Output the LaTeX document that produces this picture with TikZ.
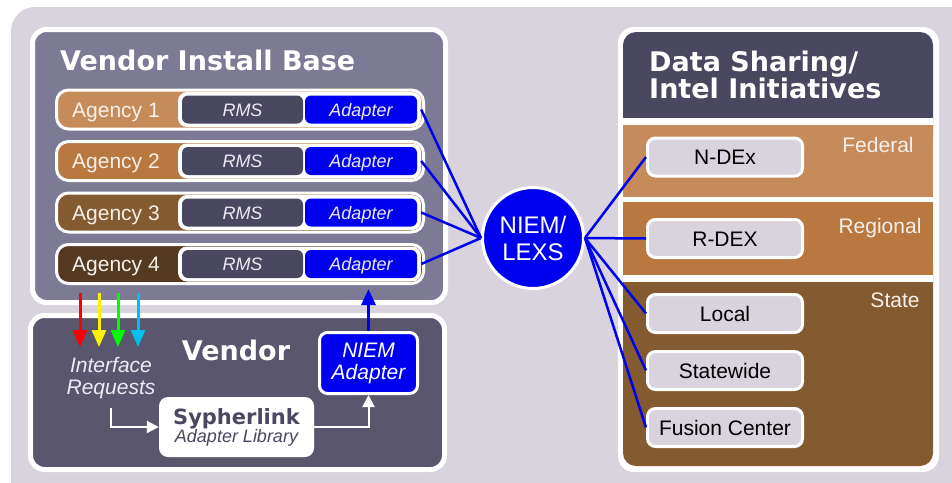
\documentclass[tikz,border=0pt]{standalone}
\usepackage{fontspec}
\setmainfont{Liberation Sans}
\newfontfamily\verd{DejaVu Sans}
\usetikzlibrary{arrows.meta}

\definecolor{bgray}{HTML}{D8D3DD}
\definecolor{ibase}{HTML}{7D7A96}
\definecolor{vend}{HTML}{5A566E}
\definecolor{slate}{HTML}{4A4760}
\definecolor{niemblue}{HTML}{0000F0}
\definecolor{agA}{HTML}{C68B5A}
\definecolor{agB}{HTML}{B87840}
\definecolor{agC}{HTML}{845A30}
\definecolor{agD}{HTML}{553A20}
\definecolor{pale}{HTML}{ECEAF2}
\definecolor{cream}{HTML}{F6F0EA}
\definecolor{reqcyan}{HTML}{00C0F0}

\tikzset{
  agrow/.style={draw=white, line width=3pt, fill=#1, rounded corners=12pt,
    minimum width=367pt, minimum height=39pt, inner sep=0pt},
  agtext/.style={anchor=base west, text=cream, inner sep=0pt, font=\fontsize{21}{21}\selectfont},
  rmswrap/.style={fill=white, rounded corners=9pt, minimum width=243pt, minimum height=35pt, inner sep=0pt},
  rmsbox/.style={fill=slate, rounded corners=6pt, minimum width=121pt, minimum height=28pt,
    inner sep=0pt, text height=13pt, text depth=0pt, text=pale, font=\fontsize{18}{18}\selectfont\itshape},
  adbox/.style={rmsbox, fill=niemblue, minimum width=112pt},
  share/.style={draw=white, line width=3pt, fill=bgray, rounded corners=8pt, inner sep=0pt,
    minimum width=155pt, minimum height=38pt, text height=15pt, text depth=0pt,
    font=\fontsize{21}{21}\selectfont},
  band/.style={anchor=base, text=cream, inner sep=0pt, font=\fontsize{21}{21}\selectfont},
  heading/.style={anchor=base west, text=white, inner sep=0pt, font=\verd\bfseries\fontsize{27}{27}\selectfont},
  link/.style={niemblue, line width=2.5pt},
  req/.style={line width=3pt, -{Triangle[width=14pt,length=17pt]}, shorten >=10pt},
  flow/.style={white, line width=2pt, -{Triangle[width=12pt,length=12pt]}},
}

\begin{document}
\begin{tikzpicture}[x=1pt, y=-1pt]
  \useasboundingbox (0,0) rectangle (952,482);
  \clip (0,0) rectangle (952,482);
  \fill[bgray, rounded corners=24pt] (11,7) rectangle (990,520);

  % vendor install base
  \draw[white, line width=5pt, fill=ibase, rounded corners=14pt] (32.5,29.5) rectangle (445.5,302.5);
  \node[heading] (vib) at (60,70) {Vendor Install Base};

  \node[agrow=agA] (ag1) at (240,109.5) {};
  \node[agtext] (ag1t) at (72,117.3) {Agency 1};
  \node[rmswrap] (rb1) at (299.5,109.5) {};
  \node[rmsbox] (rms1) at (242.5,109.5) {RMS};
  \node[adbox] (ad1) at (361,109.5) {Adapter};

  \node[agrow=agB] (ag2) at (240,161) {};
  \node[agtext] (ag2t) at (72,168.8) {Agency 2};
  \node[rmswrap] (rb2) at (299.5,161) {};
  \node[rmsbox] (rms2) at (242.5,161) {RMS};
  \node[adbox] (ad2) at (361,161) {Adapter};

  \node[agrow=agC] (ag3) at (240,212.5) {};
  \node[agtext] (ag3t) at (72,220.3) {Agency 3};
  \node[rmswrap] (rb3) at (299.5,212.5) {};
  \node[rmsbox] (rms3) at (242.5,212.5) {RMS};
  \node[adbox] (ad3) at (361,212.5) {Adapter};

  \node[agrow=agD] (ag4) at (240,264) {};
  \node[agtext] (ag4t) at (72,271.8) {Agency 4};
  \node[rmswrap] (rb4) at (299.5,264) {};
  \node[rmsbox] (rms4) at (242.5,264) {RMS};
  \node[adbox] (ad4) at (361,264) {Adapter};

  % vendor
  \draw[white, line width=5pt, fill=vend, rounded corners=14pt] (30.5,315.5) rectangle (444.5,469.5);
  \node[heading, anchor=base] (vnd) at (236,360) {Vendor};
  \node[anchor=north, align=center, inner sep=0pt, text=pale,
    font=\fontsize{21}{22}\selectfont\itshape] (ir) at (111,357) {Interface\\Requests};
  \node[fill=white, rounded corners=9pt, minimum width=155pt, minimum height=60pt,
    inner sep=0pt, align=center, text=slate, font=\fontsize{18}{18}\selectfont] (syph) at (236.5,427)
    {{\verd\bfseries\fontsize{21}{18}\selectfont Sypherlink}\\{\itshape Adapter Library}};
  \node[draw=white, line width=3pt, fill=niemblue, rounded corners=8pt, minimum width=98pt,
    minimum height=61pt, inner sep=0pt, align=center, text=white,
    font=\fontsize{21}{22}\selectfont\itshape] (nad) at (368.5,363) {NIEM\\Adapter};

  \coordinate (ra) at (80,293);
  \coordinate (rb) at (99,293);
  \coordinate (rc) at (118,293);
  \coordinate (rd) at (138,293);
  \draw[req, red] (ra) -- (ra |- ir.north);
  \draw[req, yellow] (rb) -- (rb |- ir.north);
  \draw[req, green] (rc) -- (rc |- ir.north);
  \draw[req, reqcyan] (rd) -- (rd |- ir.north);

  \draw[flow] ([yshift=-9pt]ir.south) |- (syph.west);
  \draw[flow] (syph.east) -| (nad.south);
  \coordinate (nadtip) at (368.5,289);
  \draw[niemblue, line width=3pt, -{Triangle[width=14pt,length=16pt]}] (nad.north) -- (nadtip);

  % data sharing
  \fill[white, rounded corners=16pt] (618,27) rectangle (939,472);
  \fill[slate, rounded corners=13pt] (623,32) rectangle (933,150);
  \fill[agC, rounded corners=13pt] (623,250) rectangle (933,466);
  \fill[white] (623,118) rectangle (933,282);
  \fill[agA] (623,125) rectangle (933,197);
  \fill[agB] (623,202) rectangle (933,275);
  \node[heading] (ds1) at (649,71) {Data Sharing/};
  \node[heading] (ds2) at (649,98) {Intel Initiatives};
  \node[band] (fed) at (878,152) {Federal};
  \node[band] (reg) at (880,233) {Regional};
  \node[band] (sta) at (895,307) {State};

  \node[share] (ndex) at (725,157) {N-DEx};
  \node[share] (rdex) at (725,238.5) {R-DEX};
  \node[share] (local) at (725,313.5) {Local};
  \node[share] (statewide) at (725,370.5) {Statewide};
  \node[share] (fusion) at (725,427.5) {Fusion Center};

  % niem hub
  \node[circle, draw=white, line width=3pt, fill=niemblue, minimum size=101pt, inner sep=0pt,
    align=center, text=white, font=\fontsize{24}{27}\selectfont] (niem) at (533,238) {NIEM/\\LEXS};

  \draw[link] (rb1.east) -- (niem.west);
  \draw[link] (rb2.east) -- (niem.west);
  \draw[link] (rb3.east) -- (niem.west);
  \draw[link] (rb4.east) -- (niem.west);
  \draw[link] (niem.east) -- (ndex.west);
  \draw[link] (niem.east) -- (rdex.west);
  \draw[link] (niem.east) -- (local.west);
  \draw[link] (niem.east) -- (statewide.west);
  \draw[link] (niem.east) -- (fusion.west);
\end{tikzpicture}
\end{document}
